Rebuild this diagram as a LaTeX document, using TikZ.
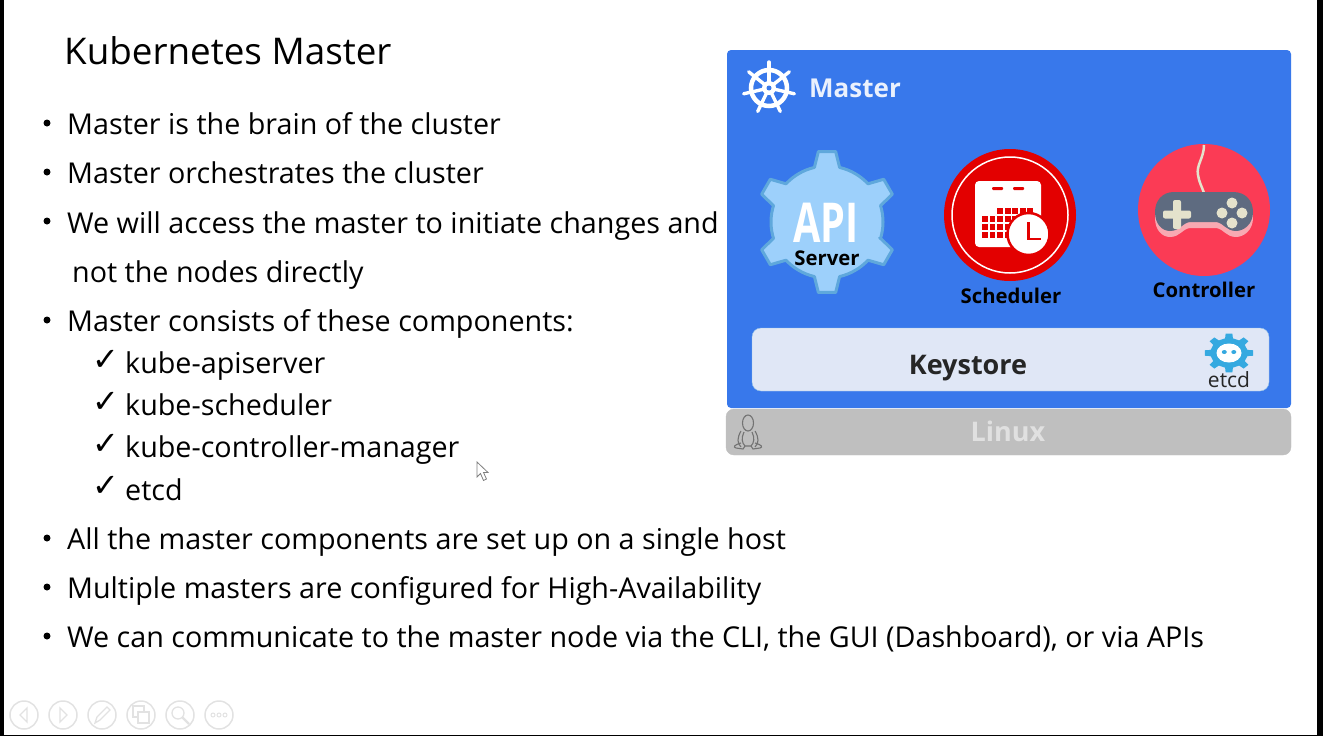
\documentclass[tikz,border=0pt]{standalone}
\usepackage{fontspec}
\setmainfont{Open Sans}
\newfontfamily\symfont{DejaVu Sans}
\usetikzlibrary{positioning,arrows.meta,calc}
\definecolor{masterblue}{HTML}{3878EB}
\definecolor{gearfill}{HTML}{9DD0FB}
\definecolor{gearline}{HTML}{5FA8DC}
\definecolor{schedred}{HTML}{E30000}
\definecolor{padred}{HTML}{FB3B55}
\definecolor{padgray}{HTML}{5E6B80}
\definecolor{padpink}{HTML}{F8A9B2}
\definecolor{padcream}{HTML}{E4E2CC}
\definecolor{keyfill}{HTML}{E0E7F6}
\definecolor{etcdblue}{HTML}{35A9E0}
\definecolor{linuxgray}{HTML}{BFBFBF}
\definecolor{toolgray}{HTML}{E2E2E2}
\tikzset{
  titletxt/.style ={anchor=base west, inner sep=0pt, font=\fontsize{36.8}{42}\selectfont},
  item/.style     ={anchor=base west, inner sep=0pt, font=\fontsize{28.7}{34}\selectfont},
  dotmark/.style  ={circle, fill=black, inner sep=0pt, minimum size=7pt},
  tick/.style     ={anchor=base west, inner sep=0pt, font=\symfont\fontsize{32}{36}\selectfont},
  complbl/.style  ={anchor=base, inner sep=0pt, font=\bfseries\fontsize{20.3}{24}\selectfont},
  toolbtn/.style  ={circle, draw=toolgray, line width=1.5pt, minimum size=28pt, inner sep=0pt},
  toolicon/.style ={draw=toolgray, line width=1.3pt},
}
\begin{document}
\begin{tikzpicture}[x=1pt,y=-1pt]
  \useasboundingbox (0,0) rectangle (1323,736);
  % screen frame
  \fill[black] (0,0) rectangle (4,736);
  \fill[black] (1317,0) rectangle (1323,736);
  \fill[black] (0,735) rectangle (1323,736);

  % left column
  \node[titletxt] (title) at (64,64) {Kubernetes Master};
  \node[dotmark] (d1) at (47,123) {};
  \node[item] (b1) at (67,134) {Master is the brain of the cluster};
  \node[dotmark] (d2) at (47,172) {};
  \node[item] (b2) at (67,183) {Master orchestrates the cluster};
  \node[dotmark] (d3) at (47,221) {};
  \node[item] (b3) at (67,233) {We will access the master to initiate changes and};
  \node[item] (b3b) at (72,282) {not the nodes directly};
  \node[dotmark] (d4) at (47,320) {};
  \node[item] (b4) at (67,331) {Master consists of these components:};
  \node[tick] (t1) at (92,370) {✓};
  \node[item] (s1) at (125,373) {kube-apiserver};
  \node[tick] (t2) at (92,412) {✓};
  \node[item] (s2) at (125,415) {kube-scheduler};
  \node[tick] (t3) at (92,454) {✓};
  \node[item] (s3) at (125,457) {kube-controller-manager};
  \node[tick] (t4) at (92,496) {✓};
  \node[item] (s4) at (125,500) {etcd};
  \node[dotmark] (d5) at (47,538) {};
  \node[item] (b5) at (67,549) {All the master components are set up on a single host};
  \node[dotmark] (d6) at (47,587) {};
  \node[item] (b6) at (67,598) {Multiple masters are configured for High-Availability};
  \node[dotmark] (d7) at (47,636) {};
  \node[item] (b7) at (67,647) {We can communicate to the master node via the CLI, the GUI (Dashboard), or via APIs};

  % mouse pointer
  \draw[fill=white, draw=gray, line width=0.8pt] (477,462) -- (477,477) -- (480.5,473.5) -- (483.5,480.5) -- (486.5,479) -- (483.5,472.5) -- (488,472.5) -- cycle;

  % master panel
  \fill[masterblue, rounded corners=4pt] (727,50) rectangle (1291,408);
  \node[anchor=base west, inner sep=0pt, text=white!90!masterblue, font=\bfseries\fontsize{26}{30}\selectfont] (master) at (809,97) {Master};

  % helm wheel
  \begin{scope}[shift={(769,88)}, white]
    \draw[line width=4.5pt] (0,0) circle (18);
    \foreach \a in {-90,-38.57,12.86,64.29,115.71,167.14,218.57}
      \draw[line width=3.4pt, line cap=round] (\a:4) -- (\a:26);
    \fill (0,0) circle (7);
    \fill[masterblue] (0,0) circle (2.5);
  \end{scope}

  % api server gear
  \begin{scope}[shift={(827,222)}]
    \draw[fill=gearfill, draw=gearline, line width=3pt, line join=round]
      (17:55) \foreach \a in {30,90,150,210,270,330}
        {-- (\a-13:56) -- (\a-7:71) -- (\a+7:71) -- (\a+13:56) arc[start angle=\a+13, end angle=\a+47, radius=56]} -- cycle;
  \end{scope}
  \node[anchor=base, inner sep=0pt, text=white, xscale=0.72, text height=40pt, text depth=0pt, font=\bfseries\fontsize{55}{60}\selectfont] (api) at (826,242) {API};
  \node[complbl, text height=14pt, text depth=0pt] (server) at (827,265) {Server};

  % scheduler
  \node[circle, fill=schedred, minimum size=132pt, inner sep=0pt] (sched) at (1010,215) {};
  \draw[white, line width=1.5pt] (sched.center) circle (58);
  \fill[white, rounded corners=4pt] (975,181) rectangle (1041,247);
  \fill[schedred, rounded corners=1pt] (992,187) rectangle (1003,190);
  \fill[schedred, rounded corners=1pt] (1013,187) rectangle (1024,190);
  \foreach \cx in {997,1005,1012,1020,1027}
    \fill[schedred] (\cx,208) rectangle ++(5.5,5.5);
  \foreach \cy in {216,224,232}
    \foreach \cx in {982,989.5,997,1005,1012,1020,1027}
      \fill[schedred] (\cx,\cy) rectangle ++(5.5,5.5);
  \node[circle, fill=white, draw=schedred, line width=2.5pt, minimum size=42pt, inner sep=0pt] (clock) at (1028.5,234) {};
  \draw[schedred, line width=2.5pt] (1028.5,222) -- (1028.5,239) -- (1041,239);
  \node[complbl] (schedlbl) at (1011,303) {Scheduler};

  % controller
  \node[circle, fill=padred, minimum size=132pt, inner sep=0pt] (ctrl) at (1204,210) {};
  \draw[padcream, line width=2.5pt] (1204,145) .. controls (1204,158) and (1196,165) .. (1198,175) .. controls (1199,182) and (1202,187) .. (1204,193);
  \fill[padpink, shift={(0,6)}] (1174,192) -- (1233,192) .. controls (1246,192) and (1253,201) .. (1253,212) .. controls (1253,224) and (1244,231) .. (1236,231) .. controls (1226,231) and (1224,223) .. (1216,222) -- (1190,222) .. controls (1182,223) and (1180,231) .. (1170,231) .. controls (1162,231) and (1155,224) .. (1155,212) .. controls (1155,201) and (1162,192) .. (1174,192) -- cycle;
  \fill[padgray] (1174,192) -- (1233,192) .. controls (1246,192) and (1253,201) .. (1253,212) .. controls (1253,224) and (1244,231) .. (1236,231) .. controls (1226,231) and (1224,223) .. (1216,222) -- (1190,222) .. controls (1182,223) and (1180,231) .. (1170,231) .. controls (1162,231) and (1155,224) .. (1155,212) .. controls (1155,201) and (1162,192) .. (1174,192) -- cycle;
  \fill[padcream, rounded corners=2pt] (1173,200) rectangle (1181,229);
  \fill[padcream, rounded corners=2pt] (1163,210.5) rectangle (1191,218.5);
  \foreach \bx/\by in {1232/203,1232/223,1222/213,1242/213}
    \fill[padcream] (\bx,\by) circle (5.5);
  \node[complbl] (ctrllbl) at (1204,297) {Controller};

  % keystore
  \node[draw=gearline!60!keyfill, fill=keyfill, rounded corners=9pt, minimum width=517pt, minimum height=63pt, inner sep=0pt] (keystore) at (1010.5,359.5) {};
  \node[anchor=base, inner sep=0pt, text=black!85, font=\bfseries\fontsize{27}{30}\selectfont] (keylbl) at (968,374.5) {Keystore};
  \begin{scope}[shift={(1229,353)}, xscale=1.25]
    \fill[etcdblue]
      (-10:14) \foreach \a in {0,45,90,135,180,225,270,315}
        {-- (\a-12:15) -- (\a-8:19.5) -- (\a+8:19.5) -- (\a+12:15) -- (\a+33:15)} -- cycle;
    \fill[white] (0,0) ellipse (10 and 9.5);
    \fill[etcdblue] (-3.8,-1) circle (2);
    \fill[etcdblue] (3.8,-1) circle (2);
  \end{scope}
  \node[anchor=base, inner sep=0pt, text=black!85, font=\fontsize{21}{24}\selectfont] (etcdlbl) at (1229,387.5) {etcd};

  % linux bar
  \draw[linuxgray, fill=linuxgray, rounded corners=8pt] (726,409) rectangle (1291,455);
  \node[anchor=base, inner sep=0pt, text=white!88!black, font=\bfseries\fontsize{27}{30}\selectfont] (linux) at (1008,441) {Linux};
  \begin{scope}[draw=black!55, line width=1.1pt]
    \draw (748,423) ellipse (5.5 and 8);
    \draw (741,431) .. controls (737,438) and (737,443) .. (741,447);
    \draw (755,431) .. controls (759,438) and (759,443) .. (755,447);
    \draw (744,432) .. controls (741,438) and (742,443) .. (745,446) -- (751,446) .. controls (754,443) and (755,438) .. (752,432);
    \draw (741,443) .. controls (734,445) and (733,447) .. (736,448) -- (743,449) -- (745,446);
    \draw (755,443) .. controls (762,445) and (763,447) .. (760,448) -- (753,449) -- (751,446);
  \end{scope}

  % slide show toolbar
  \node[toolbtn] (prev) at (24,715) {};
  \node[toolbtn] (next) at (63,715) {};
  \node[toolbtn] (pen) at (102,715) {};
  \node[toolbtn] (slides) at (141,715) {};
  \node[toolbtn] (zoom) at (180,715) {};
  \node[toolbtn] (more) at (219,715) {};
  \draw[toolicon] (27,708) -- (20,715) -- (27,722) -- cycle;
  \draw[toolicon] (60,708) -- (67,715) -- (60,722) -- cycle;
  \draw[toolicon] (95,723) -- (97,717) -- (107,707) -- (110,710) -- (100,720) -- cycle;
  \draw[toolicon, fill=white] (133,706) rectangle (144,717);
  \draw[toolicon, fill=white] (138,712) rectangle (149,723);
  \draw[toolicon] (178,713) circle (6);
  \draw[toolicon, line width=2.2pt] (182.5,717.5) -- (189,724);
  \foreach \bx in {213,219,225}
    \draw[toolicon, line width=1pt] (\bx,715) circle (2);
\end{tikzpicture}
\end{document}
